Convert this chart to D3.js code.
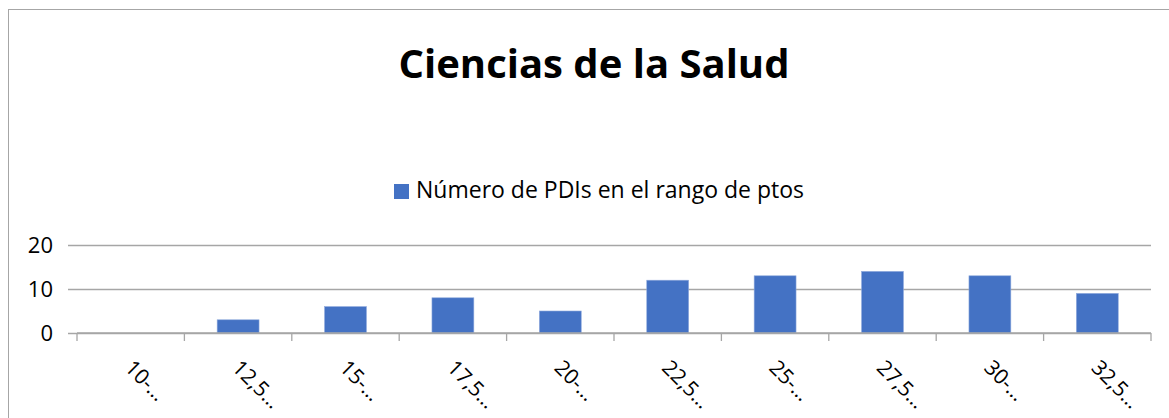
<!DOCTYPE html>
<html>
<head>
<meta charset="utf-8">
<title>Ciencias de la Salud</title>
<script src="https://d3js.org/d3.v7.min.js"></script>
<style>
  body { margin: 0; background: #fff; }
  svg { display: block; font-family: "Open Sans", "Noto Sans", sans-serif; }
</style>
</head>
<body>
<script>
// datos
const rangos = ["10-…", "12,5…", "15-…", "17,5…", "20-…", "22,5…", "25-…", "27,5…", "30-…", "32,5…"]
const numPDIs = [0, 3, 6, 8, 5, 12, 13, 14, 13, 9]
const ticksY = [0, 10, 20]
const titulo = "Ciencias de la Salud"
const leyenda = "Número de PDIs en el rango de ptos"

const width = 1169, height = 418
const margin = {top: 245, right: 18, bottom: 85, left: 77}

const svg = d3.select("body").append("svg")
    .attr("width", width)
    .attr("height", height)

// marco del grafico
svg.append("rect")
    .attr("x", 8.5).attr("y", 9.5)
    .attr("width", width + 10).attr("height", height + 10)
    .attr("fill", "none")
    .attr("stroke", "#a6a6a6")

const x = d3.scaleBand()
    .domain(rangos)
    .range([margin.left, width - margin.right])
    .paddingInner(0.61)
    .paddingOuter(0.305)

const xTicks = d3.scaleBand()
    .domain(rangos)
    .range([margin.left, width - margin.right])

const y = d3.scaleLinear()
    .domain([0, 20])
    .range([height - margin.bottom, margin.top])

// titulo
svg.append("text")
    .attr("x", 594).attr("y", 78)
    .attr("text-anchor", "middle")
    .style("font-weight", "bold")
    .style("font-size", "40px")
    .attr("fill", "#000")
    .text(titulo)

// leyenda
svg.append("rect")
    .attr("x", 394).attr("y", 184)
    .attr("width", 15).attr("height", 15)
    .attr("fill", "#4472c4")
svg.append("text")
    .attr("x", 416).attr("y", 198)
    .style("font-size", "23px")
    .attr("fill", "#000")
    .text(leyenda)

// lineas de cuadricula + eje y
const gy = svg.append("g")
    .attr("transform", `translate(${margin.left},0)`)
    .call(d3.axisLeft(y).tickValues(ticksY).tickSize(-(width - margin.left - margin.right)))
gy.attr("font-family", null).attr("font-size", null)
gy.select(".domain").remove()
gy.selectAll(".tick line").attr("stroke", "#a6a6a6").attr("stroke-width", 1.3).attr("x1", -9)
gy.selectAll(".tick text")
    .style("font-size", "22px")
    .attr("fill", "#000")
    .attr("x", -24)

// barras
svg.append("g")
  .selectAll("rect")
  .data(numPDIs)
  .join("rect")
    .attr("x", (d, i) => x(rangos[i]))
    .attr("y", d => y(d))
    .attr("width", x.bandwidth())
    .attr("height", d => y(0) - y(d))
    .attr("fill", "#4472c4")
    .attr("stroke", "#8faadc")
    .attr("stroke-width", 0.6)

// eje x
const gx = svg.append("g")
    .attr("transform", `translate(0,${y(0)})`)
gx.append("line")
    .attr("x1", margin.left).attr("x2", width - margin.right)
    .attr("stroke", "#a6a6a6").attr("stroke-width", 1.3)
gx.selectAll("line.tick")
  .data(d3.range(rangos.length + 1))
  .join("line")
    .attr("class", "tick")
    .attr("x1", i => i < rangos.length ? xTicks(rangos[i]) : xTicks.range()[1])
    .attr("x2", i => i < rangos.length ? xTicks(rangos[i]) : xTicks.range()[1])
    .attr("y1", 0).attr("y2", 8)
    .attr("stroke", "#a6a6a6").attr("stroke-width", 1.3)

gx.selectAll("text")
  .data(rangos)
  .join("text")
    .attr("transform", d => `translate(${x(d) + x.bandwidth() / 2 - 7},${36}) rotate(45)`)
    .attr("text-anchor", "start")
    .style("font-size", "21px")
    .attr("fill", "#000")
    .text(d => d)
</script>
</body>
</html>
